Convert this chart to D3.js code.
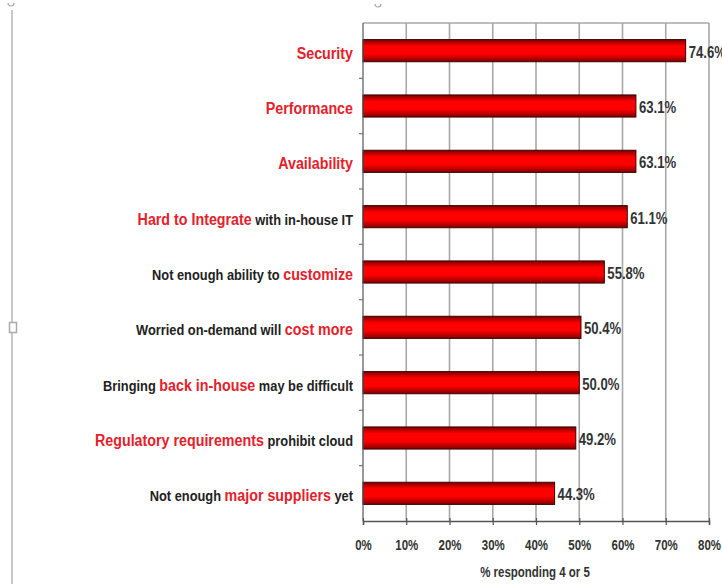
<!DOCTYPE html>
<html><head><meta charset="utf-8">
<script src="https://cdn.jsdelivr.net/npm/d3@7"></script>
<style>
html,body{margin:0;padding:0;background:#fff;}
svg{display:block;font-family:"Liberation Sans",Arial,sans-serif;}
</style></head>
<body>
<svg id="chart" width="722" height="584"></svg>
<script>
// Data
const categories = ["Security","Performance","Availability","Hard to Integrate with in-house IT","Not enough ability to customize","Worried on-demand will cost more","Bringing back in-house may be difficult","Regulatory requirements prohibit cloud","Not enough major suppliers yet"];
// label segments: [text, highlighted]
const labelParts = [
  [["Security",true]],
  [["Performance",true]],
  [["Availability",true]],
  [["Hard to Integrate",true],[" with in-house IT",false]],
  [["Not enough ability to ",false],["customize",true]],
  [["Worried on-demand will ",false],["cost more",true]],
  [["Bringing ",false],["back in-house",true],[" may be difficult",false]],
  [["Regulatory requirements",true],[" prohibit cloud",false]],
  [["Not enough ",false],["major suppliers",true],[" yet",false]]
];
const values = [74.6, 63.1, 63.1, 61.1, 55.8, 50.4, 50.0, 49.2, 44.3];
const tickValues = [0,10,20,30,40,50,60,70,80];
const axisTitle = "% responding 4 or 5";

const NARROW = 0.82;
const svg = d3.select("#chart");
const m = {left:363, right:709, top:23, bottom:521};

// decorations (document frame artifacts)
svg.append("line").attr("x1",12).attr("x2",12).attr("y1",10).attr("y2",584).attr("stroke","#c8c8c8").attr("stroke-width",2);
svg.append("rect").attr("x",9.5).attr("y",322.5).attr("width",7).attr("height",10).attr("fill","#fff").attr("stroke","#aaa").attr("stroke-width",1.5);
[[11,3],[378,4]].forEach(([cx,cy])=>{
  svg.append("path").attr("d",`M${cx-3},${cy} A3,3 0 0 0 ${cx+3},${cy}`).attr("fill","none").attr("stroke","#aaa").attr("stroke-width",1.2);
});

const x = d3.scaleLinear().domain([0,80]).range([m.left,m.right]);
const y = d3.scaleBand().domain(categories).range([m.top,m.bottom]).paddingInner(0.6).paddingOuter(0.3);

// gradient
const defs = svg.append("defs");
const g = defs.append("linearGradient").attr("id","barGrad").attr("x1",0).attr("x2",0).attr("y1",0).attr("y2",1);
g.append("stop").attr("offset","0%").attr("stop-color","#7a0000");
g.append("stop").attr("offset","30%").attr("stop-color","#ff0000");
g.append("stop").attr("offset","65%").attr("stop-color","#ff0000");
g.append("stop").attr("offset","100%").attr("stop-color","#800000");

// gridlines
svg.append("g").selectAll("line").data(tickValues.slice(1)).join("line")
  .attr("x1",d=>x(d)).attr("x2",d=>x(d)).attr("y1",m.top).attr("y2",m.bottom)
  .attr("stroke","#a8a8a8").attr("stroke-width",1.6);
svg.append("line").attr("x1",m.left).attr("x2",m.right).attr("y1",m.top).attr("y2",m.top)
  .attr("stroke","#a8a8a8").attr("stroke-width",1.6);

// bars
svg.append("g").selectAll("rect").data(values).join("rect")
  .attr("x",x(0)).attr("y",(d,i)=>y(categories[i]))
  .attr("width",d=>x(d)-x(0)).attr("height",y.bandwidth())
  .attr("fill","url(#barGrad)").attr("stroke","#3a0000").attr("stroke-width",1);

// value labels
svg.append("g").selectAll("text").data(values).join("text")
  .attr("transform",(d,i)=>`translate(${x(d)+3},${y(categories[i])+y.bandwidth()/2+7}) scale(${NARROW},1)`)
  .attr("font-size",16).attr("font-weight","bold").attr("fill","#333")
  .text(d=>d.toFixed(1)+"%");

// y axis
const yAxisG = svg.append("g");
yAxisG.append("line").attr("x1",m.left).attr("x2",m.left).attr("y1",m.top).attr("y2",m.bottom).attr("stroke","#555").attr("stroke-width",1.2);
const boundaries = categories.slice(1).map(c=>y(c)-y.step()*y.paddingInner()/2);
yAxisG.selectAll("line.t").data(boundaries).join("line").attr("class","t")
  .attr("x1",m.left-4).attr("x2",m.left).attr("y1",d=>d).attr("y2",d=>d).attr("stroke","#777").attr("stroke-width",1.2);

// category labels
const lab = svg.append("g").selectAll("text").data(labelParts).join("text")
  .attr("transform",(d,i)=>`translate(${m.left-10},${y(categories[i])+y.bandwidth()/2+8}) scale(0.84,1)`)
  .attr("text-anchor","end").attr("font-weight","bold").attr("xml:space","preserve");
lab.selectAll("tspan").data(d=>d).join("tspan")
  .attr("font-size",d=>d[1]?17:15.3)
  .attr("fill",d=>d[1]?"#e5202a":"#222")
  .text(d=>d[0]);

// x axis
const xAxis = d3.axisBottom(x).tickValues(tickValues).tickFormat(d=>d+"%").tickSize(4).tickPadding(15);
const xg = svg.append("g").attr("transform",`translate(0,${m.bottom})`).call(xAxis);
xg.select(".domain").attr("stroke","#555").attr("stroke-width",1.5);
xg.selectAll(".tick line").attr("stroke","#555").attr("stroke-width",1.2).attr("y1",-3);
xg.selectAll(".tick text").attr("font-size",14).attr("font-weight","bold").attr("fill","#333")
  .attr("font-family","'Liberation Sans',Arial,sans-serif").attr("transform",`scale(${NARROW},1)`);

svg.append("text").attr("transform",`translate(535,577) scale(${NARROW},1)`).attr("text-anchor","middle")
  .attr("font-size",14).attr("font-weight","bold").attr("fill","#333").text(axisTitle);
</script>
</body></html>
